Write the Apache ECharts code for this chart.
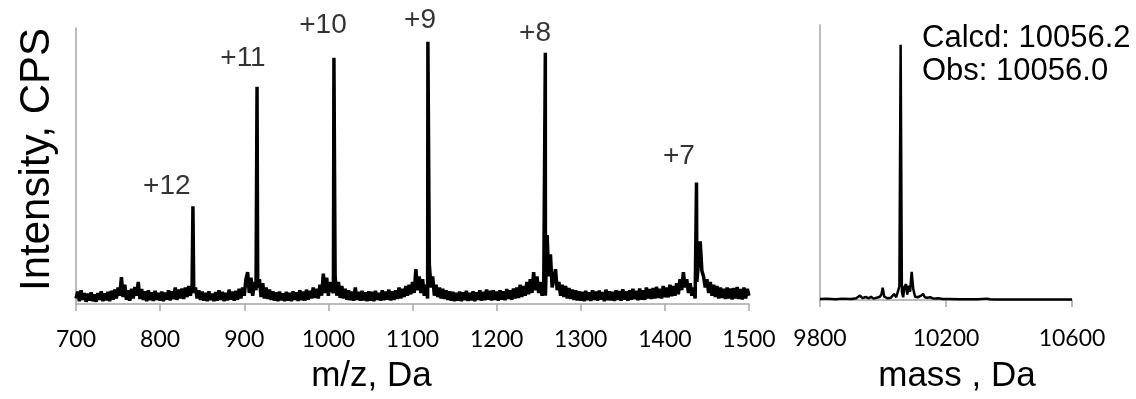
<!DOCTYPE html>
<html>
<head>
<meta charset="utf-8">
<script src="https://cdn.jsdelivr.net/npm/echarts@6/dist/echarts.min.js"></script>
<style>
html,body{margin:0;padding:0;background:#fff;}
#chart{width:1136px;height:399px;}
</style>
</head>
<body>
<div id="chart"></div>
<script>
// ---------- DATA ----------
// m/z spectrum baseline (noise) sampled every 2 Da from 700 to 1500
const mzStart = 700;
const mzStep = 2;
const mzNoise = [
  2,4.5,1,5,1.5,4,0.8,3.8,1.2,4.2,1,3.5,0.8,4,1.5,4.6,1,3.9,1.3,4.4,1,4.8,1.6,5.2,2,
  6,3,9.7,2.5,7,1.5,5,1.2,5.5,2,6.2,3,8,1.8,5.4,1.5,4.6,1,5,1.4,4.2,1.1,4.8,1.5,4,
  1.2,4.5,1,4.1,1.6,5,1.3,4.6,1.8,6,1.5,5.2,2,5.6,1.8,6,2.5,6.5,3,7,4,6,2,5,1.5,
  4.5,1.2,4,1,4.6,1.4,3.8,1,4.3,1.2,5,1.5,4.4,1,4,1.3,5.2,1.6,4.5,1.2,4.8,1.5,5.5,2,6,
  3,9,11.5,4,9.5,3,8,5,6,9,2.5,7.5,2,6,1.8,5.2,1.5,4.6,1.2,4.2,1,4.5,1.3,3.9,1,
  4.4,1.2,4,1,4.6,1.5,4.2,1.1,5,1.4,4.5,1.2,5.2,1.6,4.8,2,6,2.2,5.5,2,7,3,11,4,9.5,
  3,8,5,4,10,3,8,2.2,6.5,2,5.5,1.5,5,1.4,4.5,1.2,6,1.5,4.4,1.2,4.8,1.3,4.2,1,4.6,
  1.2,4.4,1,4.8,1.5,4,1.2,5,1.4,4.5,1.6,5.2,1.3,4.6,1.5,5,1.8,6,2,5.5,2.5,6.5,3,7,3.5,
  8,4,12.6,5,10,4,9,3,7,2,14.4,6,10,3,7,2.5,6,2,5.5,1.8,5,1.5,4.6,1.2,4.4,
  1,4,1.2,4.5,1,4.2,1.4,4.8,1.1,4,1.3,4.6,1,4.2,1.5,5,1.2,4.4,1.4,5.2,1.6,4.8,1.3,5,1.5,
  4.5,1.2,5,1.6,4.6,1.4,5.4,1.8,5,1.5,5.6,2,6,2.2,7,2.5,6.5,3,8,3.5,9,4,11.5,5,10,
  4,8,3,6,3,25,10,18,6,9,12.6,5,8,3,7,2.5,6.5,2,5.8,1.8,5.2,1.5,5,1.3,4.6,
  1.2,4.4,1,4.8,1.4,4.2,1.1,5,1.5,4.5,1.2,4.9,1.6,4.3,1,5.2,1.4,4.6,1.3,4.4,1.1,5,1.5,4.7,1.2,
  5.3,1.6,4.6,1.2,5,1.5,5.5,1.8,4.8,1.4,5.6,1.6,5,1.5,6,2,5.4,1.8,5.8,2,6.2,2.2,5.5,2,6.5,
  2.5,6,2.4,7,2.8,6.5,3,7.5,3.5,9,5,11.5,6,9,4,7.5,3,6,2,8,15,22.7,12,10,6,
  9,4,8,3,7,2.5,6.5,2,6,2.2,5.5,1.8,6,2,5.6,1.6,5.8,2,6.2,1.8,5.4,1.6,6,2,5.5,
  3
];
// main charge-state peaks (m/z, intensity)
const peakMz  = [839.0, 915.2, 1006.6, 1118.3, 1257.9, 1437.6];
const peakInt = [35.4, 78.7, 89.2, 95.0, 91.0, 44.0];
// charge-state labels and their anchor (m/z, intensity)
const chargeLabels = ['+12', '+11', '+10', '+9', '+8', '+7'];
const labelMz  = [808, 898.5, 993.6, 1109, 1245.6, 1416.7];
const labelInt = [42.6, 89.2, 101, 102.9, 98.2, 53.4];

// deconvoluted mass spectrum
const massX = [9800,9820,9850,9870,9900,9915,9927,9935,9945,9955,9962,9970,9980,9990,9995,9999,10004,10015,10025,10035,10042,10048,10052,10056,10060,10064,10068,10073,10077,10082,10086,10091,10096,10102,10110,10120,10127,10133,10140,10150,10160,10175,10190,10210,10240,10300,10330,10340,10360,10400,10500,10600];
const massInt = [0.4,0.5,0.3,0.5,0.4,0.6,1.6,0.7,1.1,0.6,1.2,0.5,0.8,1.2,2,4.5,1.2,0.6,0.8,2.2,1,0.8,5,92.8,3,1,4.8,5.8,2,5.2,3,10.2,4,1.2,1,1.5,2.2,1,0.8,1,0.5,0.6,0.4,0.4,0.3,0.3,0.5,0.3,0.2,0.2,0.2,0.2];

const mzTicks = {min: 700, max: 1500, interval: 100};
const massTicks = {min: 9800, max: 10600, interval: 400};
const annotation = ['Calcd: 10056.2', 'Obs: 10056.0'];

// ---------- BUILD ----------
const leftData = mzNoise.map((v, i) => [mzStart + i * mzStep, v]);
peakMz.forEach((m, i) => leftData.push([m, peakInt[i]]));
leftData.sort((a, b) => a[0] - b[0]);
const rightData = massX.map((m, i) => [m, massInt[i]]);
const labelData = labelMz.map((m, i) => ({value: [m, labelInt[i]], name: chargeLabels[i]}));

const axisGrey = '#a6a6a6';
const tickFont = {fontFamily: 'Lato', fontSize: 23, color: '#000', formatter: v => String(v)};
const nameFont = {fontFamily: 'Liberation Sans', fontSize: 35, color: '#000'};

const chart = echarts.init(document.getElementById('chart'), null, {renderer: 'canvas'});
chart.setOption({
  backgroundColor: '#fff',
  animation: false,
  title: {
    text: annotation.join('\n'),
    left: 922, top: 22, padding: 0,
    textStyle: {fontFamily: 'Liberation Sans', fontSize: 31, lineHeight: 33, fontWeight: 'normal', color: '#000'}
  },
  grid: [
    {left: 76, top: 28, width: 673, height: 277},
    {left: 820, top: 25, width: 252, height: 276}
  ],
  xAxis: [
    {
      gridIndex: 0, type: 'value', min: mzTicks.min, max: mzTicks.max, interval: mzTicks.interval,
      name: 'm/z, Da', nameLocation: 'middle', nameGap: 55,
      nameTextStyle: Object.assign({padding: [0, 82, 0, 0]}, nameFont),
      axisLine: {show: true, lineStyle: {color: axisGrey, width: 1.5}},
      axisTick: {show: true, length: 7, lineStyle: {color: axisGrey, width: 1.5}},
      axisLabel: Object.assign({margin: 24}, tickFont),
      splitLine: {show: false}
    },
    {
      gridIndex: 1, type: 'value', min: massTicks.min, max: massTicks.max, interval: massTicks.interval,
      name: 'mass , Da', nameLocation: 'middle', nameGap: 59,
      nameTextStyle: Object.assign({padding: [0, 0, 0, 22]}, nameFont),
      axisLine: {show: true, lineStyle: {color: axisGrey, width: 1.5}},
      axisTick: {show: true, length: 7, lineStyle: {color: axisGrey, width: 1.5}},
      axisLabel: Object.assign({margin: 27}, tickFont),
      splitLine: {show: false}
    }
  ],
  yAxis: [
    {
      gridIndex: 0, type: 'value', min: 0, max: 100,
      name: 'Intensity, CPS', nameLocation: 'middle', nameGap: 18,
      nameTextStyle: {fontFamily: 'Liberation Sans', fontSize: 42, color: '#000', padding: [0, 0, 0, 13]},
      axisLine: {show: true, lineStyle: {color: axisGrey, width: 1.5}},
      axisTick: {show: false}, axisLabel: {show: false}, splitLine: {show: false}
    },
    {
      gridIndex: 1, type: 'value', min: 0, max: 100,
      axisLine: {show: true, lineStyle: {color: axisGrey, width: 1.5}},
      axisTick: {show: false}, axisLabel: {show: false}, splitLine: {show: false}
    }
  ],
  series: [
    {
      type: 'line', xAxisIndex: 0, yAxisIndex: 0, data: leftData,
      showSymbol: false, symbol: 'none', lineStyle: {color: '#000', width: 3.5}, z: 3
    },
    {
      type: 'line', xAxisIndex: 1, yAxisIndex: 1, data: rightData,
      showSymbol: false, symbol: 'none', lineStyle: {color: '#000', width: 2.5}, z: 3
    },
    {
      type: 'scatter', xAxisIndex: 0, yAxisIndex: 0, data: labelData, clip: false,
      symbolSize: 1, itemStyle: {color: 'rgba(0,0,0,0)'},
      label: {show: true, position: 'inside', formatter: p => p.name,
        fontFamily: 'Liberation Sans', fontSize: 28, color: '#000'},
      silent: true, z: 4
    }
  ]
});
</script>
</body>
</html>
